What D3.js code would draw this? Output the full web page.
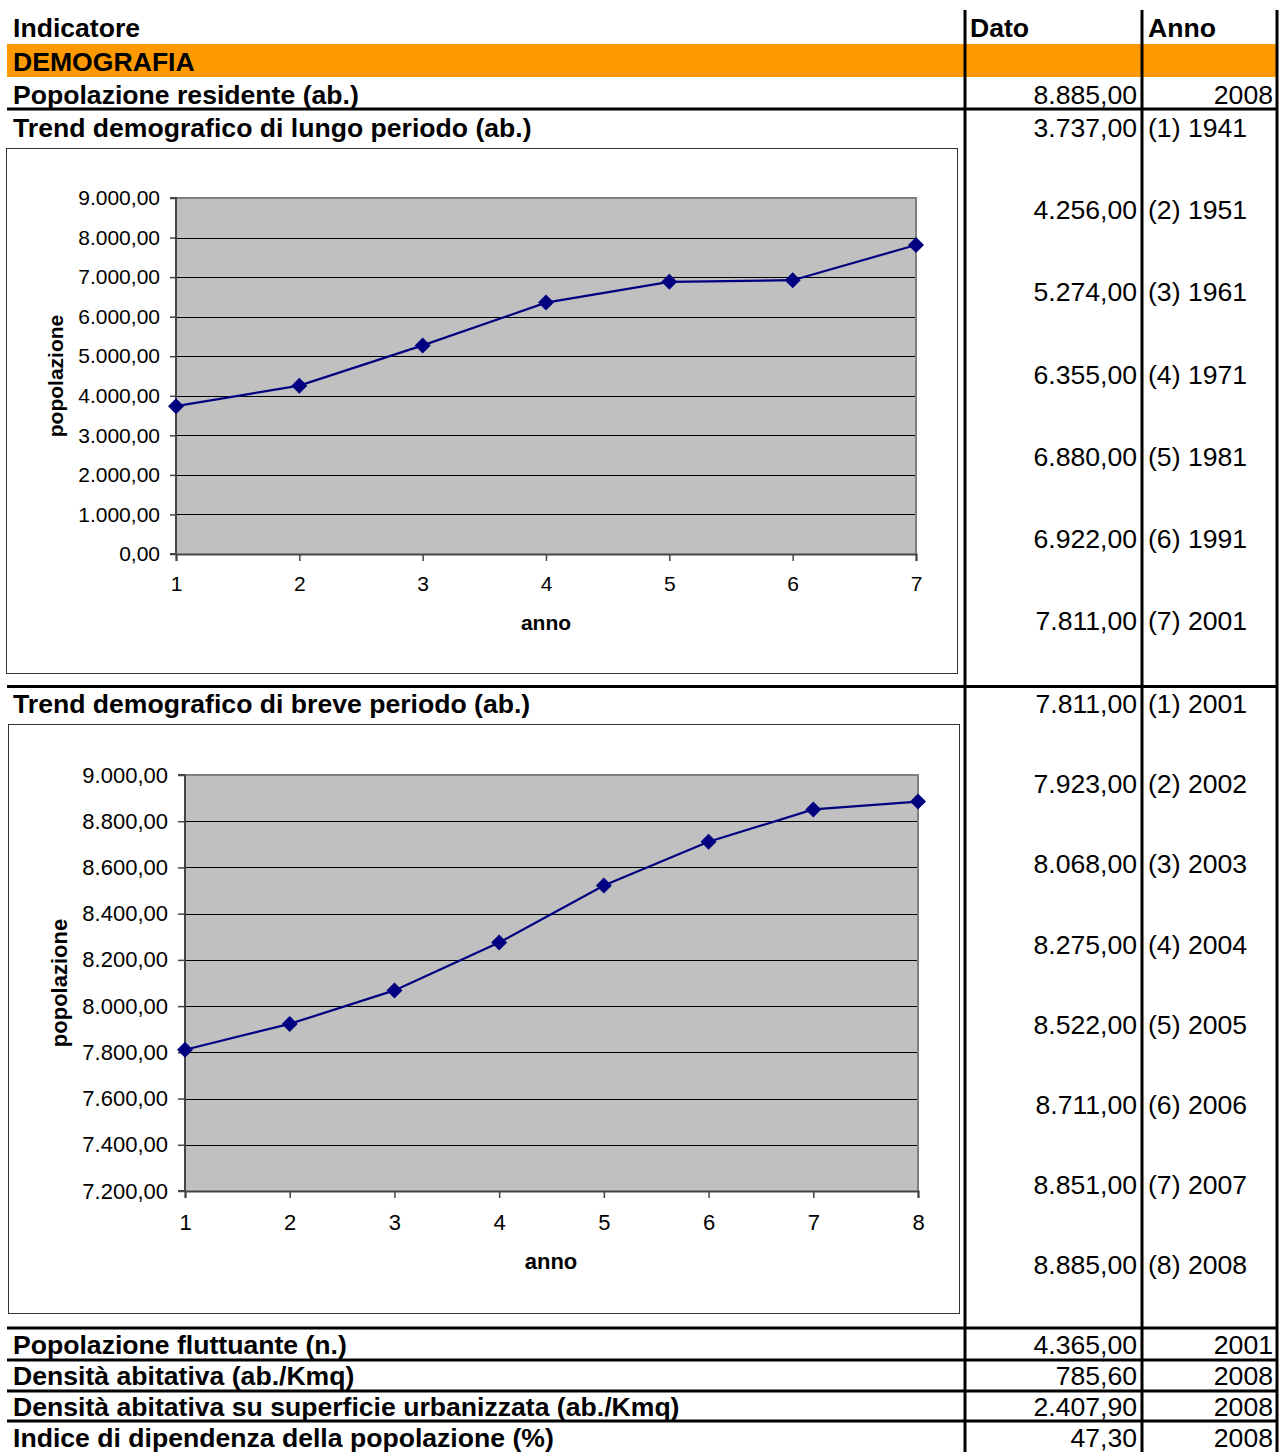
<!DOCTYPE html>
<html>
<head>
<meta charset="utf-8">
<script src="https://cdn.jsdelivr.net/npm/d3@7"></script>
<style>
  html, body { margin: 0; padding: 0; background: #fff; }
  svg { display: block; font-family: "Liberation Sans", Arial, sans-serif; }
</style>
</head>
<body>
<div id="sheet"></div>
<script>
// long period trend (censimenti)
const longIndex = [1, 2, 3, 4, 5, 6, 7];
const longYears = ['1941', '1951', '1961', '1971', '1981', '1991', '2001'];
const longValues = [3737, 4256, 5274, 6355, 6880, 6922, 7811];

// short period trend
const shortIndex = [1, 2, 3, 4, 5, 6, 7, 8];
const shortYears = ['2001', '2002', '2003', '2004', '2005', '2006', '2007', '2008'];
const shortValues = [7811, 7923, 8068, 8275, 8522, 8711, 8851, 8885];

// single rows
const topLabel = 'Popolazione residente (ab.)';
const topValue = 8885;
const topYear = '2008';
const bottomLabels = [
  'Popolazione fluttuante (n.)',
  'Densità abitativa (ab./Kmq)',
  'Densità abitativa su superficie urbanizzata (ab./Kmq)',
  'Indice di dipendenza della popolazione (%)'
];
const bottomValues = [4365, 785.6, 2407.9, 47.3];
const bottomYears = ['2001', '2008', '2008', '2008'];

const itLocale = d3.formatLocale({decimal: ',', thousands: '.', grouping: [3], currency: ['€', '']});
const fmt = itLocale.format(',.2f');

const W = 1286, H = 1452;
const svg = d3.select('#sheet').append('svg').attr('width', W).attr('height', H);

const colDato = 965, colAnno = 1142, colEnd = 1277;
const txtLeft = 13, datoRight = 1137, annoLeft = 1148, annoRight = 1273;
const FS = 26.6;

function bold(x, y, s, anchor) {
  return svg.append('text').attr('x', x).attr('y', y)
    .attr('font-size', FS).attr('font-weight', 'bold')
    .attr('text-anchor', anchor || 'start').text(s);
}
function plain(x, y, s, anchor) {
  return svg.append('text').attr('x', x).attr('y', y)
    .attr('font-size', FS).attr('text-anchor', anchor || 'start').text(s);
}

// header + orange section band
svg.append('rect').attr('x', 7).attr('y', 44).attr('width', colEnd - 7).attr('height', 33).attr('fill', '#FF9900');
bold(txtLeft, 37, 'Indicatore');
bold(970, 37, 'Dato');
bold(1148, 37, 'Anno');
bold(txtLeft, 71, 'DEMOGRAFIA');

bold(txtLeft, 104, topLabel);
plain(datoRight, 104, fmt(topValue), 'end');
plain(annoRight, 104, topYear, 'end');

bold(txtLeft, 137, 'Trend demografico di lungo periodo (ab.)');
longValues.forEach((v, i) => {
  const y = 137 + i * 82.2;
  plain(datoRight, y, fmt(v), 'end');
  plain(annoLeft, y, '(' + longIndex[i] + ') ' + longYears[i]);
});

bold(txtLeft, 713, 'Trend demografico di breve periodo (ab.)');
shortValues.forEach((v, i) => {
  const y = 713 + i * 80.2;
  plain(datoRight, y, fmt(v), 'end');
  plain(annoLeft, y, '(' + shortIndex[i] + ') ' + shortYears[i]);
});

bottomLabels.forEach((lab, i) => {
  const y = 1354 + i * 31;
  bold(txtLeft, y, lab);
  plain(datoRight, y, fmt(bottomValues[i]), 'end');
  plain(annoRight, y, bottomYears[i], 'end');
});

// grid of the sheet
const thick = 3;
[109, 686.5, 1328, 1360, 1391, 1421].forEach(y => {
  svg.append('line').attr('x1', 7).attr('x2', colEnd + 1).attr('y1', y).attr('y2', y)
    .attr('stroke', '#000').attr('stroke-width', thick);
});
[colDato, colAnno, colEnd].forEach(x => {
  svg.append('line').attr('x1', x).attr('x2', x).attr('y1', 10).attr('y2', H)
    .attr('stroke', '#000').attr('stroke-width', thick);
});

// charts
function drawChart(opt) {
  const g = svg.append('g');
  g.append('rect').attr('x', opt.box[0] + 0.5).attr('y', opt.box[1] + 0.5)
    .attr('width', opt.box[2] - opt.box[0]).attr('height', opt.box[3] - opt.box[1])
    .attr('fill', '#fff').attr('stroke', '#333').attr('stroke-width', 1);

  const x = d3.scaleLinear().domain(d3.extent(opt.index)).range([opt.plot[0], opt.plot[2]]);
  const y = d3.scaleLinear().domain(opt.domain).range([opt.plot[3], opt.plot[1]]);
  const ticks = d3.range(opt.domain[0], opt.domain[1] + opt.step / 2, opt.step);

  g.append('rect').attr('x', opt.plot[0]).attr('y', opt.plot[1])
    .attr('width', opt.plot[2] - opt.plot[0]).attr('height', opt.plot[3] - opt.plot[1])
    .attr('fill', '#C0C0C0');

  g.selectAll('line.grid').data(ticks.slice(1, -1)).enter().append('line')
    .attr('class', 'grid')
    .attr('x1', opt.plot[0]).attr('x2', opt.plot[2])
    .attr('y1', d => Math.round(y(d)) + 0.5).attr('y2', d => Math.round(y(d)) + 0.5)
    .attr('stroke', '#000').attr('stroke-width', 1);

  // top and right frame of the plot area
  g.append('path')
    .attr('d', `M${opt.plot[0]},${opt.plot[1]}H${opt.plot[2]}V${opt.plot[3]}`)
    .attr('fill', 'none').attr('stroke', '#808080').attr('stroke-width', 2);

  const yAxis = d3.axisLeft(y).tickValues(ticks).tickSize(opt.ytick).tickPadding(opt.ypad)
    .tickFormat(d => fmt(d));
  const ya = g.append('g').attr('transform', `translate(${opt.plot[0]},0)`).call(yAxis);
  const xAxis = d3.axisBottom(x).tickValues(opt.index).tickSize(7).tickPadding(opt.xpad)
    .tickFormat(d3.format('d'));
  const xa = g.append('g').attr('transform', `translate(0,${opt.plot[3]})`).call(xAxis);
  [ya, xa].forEach(a => {
    a.select('.domain').attr('stroke', '#444').attr('stroke-width', 2);
    a.selectAll('.tick line').attr('stroke', '#444').attr('stroke-width', 1.5);
    a.selectAll('.tick text').attr('font-size', opt.fs).attr('fill', '#000')
      .attr('font-family', '"Liberation Sans", Arial, sans-serif');
  });
  ya.select('.domain').attr('d', `M-${opt.ytick},${opt.plot[3]}H0V${opt.plot[1]}H-${opt.ytick}`);

  const pts = opt.values.map((v, i) => [x(opt.index[i]), y(v)]);
  g.append('path').attr('d', d3.line()(pts))
    .attr('fill', 'none').attr('stroke', '#000080').attr('stroke-width', 2.2);
  g.selectAll('path.mk').data(pts).enter().append('path')
    .attr('class', 'mk')
    .attr('d', d3.symbol(d3.symbolSquare, 128)())
    .attr('transform', d => `translate(${d[0]},${d[1]}) rotate(45)`)
    .attr('fill', '#000080');

  g.append('text').attr('x', opt.xlab[0]).attr('y', opt.xlab[1])
    .attr('text-anchor', 'middle').attr('font-size', opt.fs).attr('font-weight', 'bold').text('anno');
  g.append('text').attr('transform', `translate(${opt.ylab[0]},${opt.ylab[1]}) rotate(-90)`)
    .attr('text-anchor', 'middle').attr('font-size', opt.fs).attr('font-weight', 'bold').text('popolazione');
}

drawChart({
  box: [6, 148, 957, 673], plot: [176, 198, 916, 554], fs: 21,
  index: longIndex, values: longValues, domain: [0, 9000], step: 1000,
  ytick: 6, ypad: 10, xpad: 15, xlab: [546, 630], ylab: [63, 376]
});
drawChart({
  box: [8, 724, 959, 1313], plot: [185, 775, 918, 1191], fs: 22,
  index: shortIndex, values: shortValues, domain: [7200, 9000], step: 200,
  ytick: 7, ypad: 10, xpad: 16, xlab: [551, 1269], ylab: [67, 983]
});
</script>
</body>
</html>
